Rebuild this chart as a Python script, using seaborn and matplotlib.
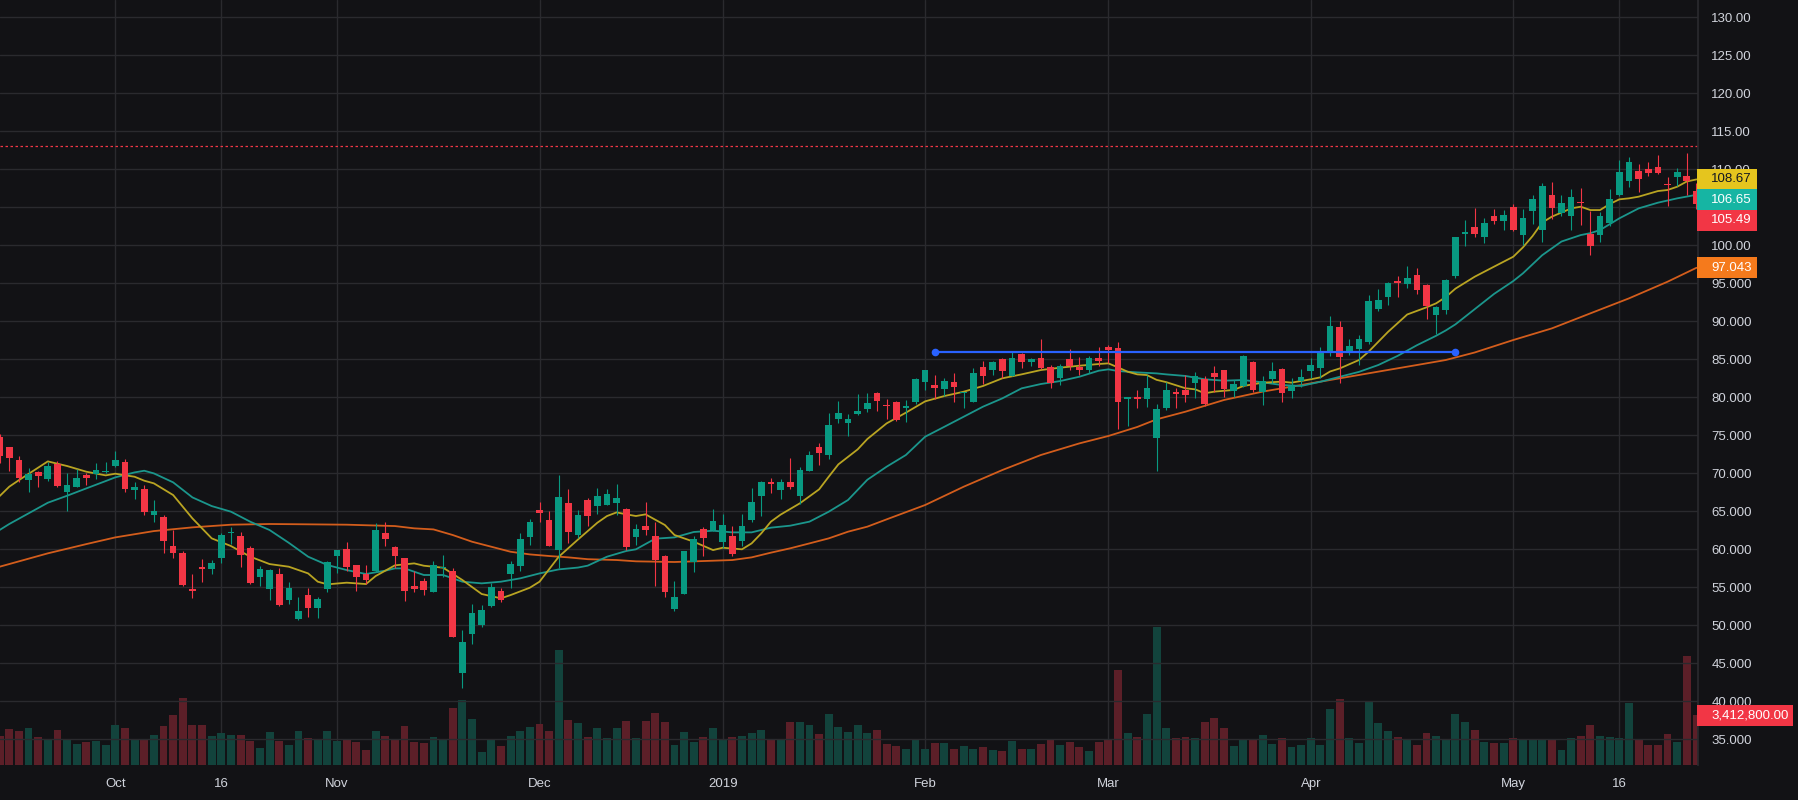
import numpy as np
import pandas as pd
import seaborn as sns
import matplotlib.pyplot as plt
from matplotlib.patches import Rectangle
from matplotlib.ticker import FuncFormatter

# 1 - Daily candles, bar index 0..176
opens = [74.8, 73.46, 71.75, 69.12, 70.17, 69.29, 71.26, 67.58, 68.24, 69.77,
         69.9, 70.2, 71.0, 71.48, 67.84, 67.93, 64.51, 64.25, 60.43, 59.51,
         54.77, 57.71, 57.4, 58.9, 62.2, 61.75, 60.17, 56.4, 54.82, 56.75,
         53.37, 50.83, 53.98, 52.32, 54.77, 59.16, 60.04, 57.93, 56.75, 57.19,
         62.14, 60.3, 58.85, 55.17, 55.83, 54.42, 57.6, 57.14, 43.77, 48.9,
         50.08, 52.58, 54.51, 56.79, 57.84, 61.66, 65.17, 63.85, 59.95, 66.09,
         61.92, 66.48, 65.7, 65.83, 66.09, 65.3, 61.62, 63.06, 61.75, 59.12,
         52.14, 54.12, 58.33, 62.67, 62.54, 60.96, 61.75, 61.09, 63.85, 67.01,
         68.85, 67.8, 68.85, 67.01, 70.3, 73.46, 72.41, 77.14, 76.62, 77.8,
         78.46, 80.56, 78.99, 79.38, 78.59, 79.38, 82.01, 81.62, 81.09, 82.01,
         80.6, 79.38, 83.99, 83.59, 85.04, 82.8, 85.7, 84.64, 85.17, 83.99,
         82.54, 85.04, 83.99, 83.59, 85.17, 86.62, 86.49, 79.8, 80.04, 79.78,
         74.64, 78.59, 80.7, 80.97, 81.89, 82.41, 83.2, 83.6, 80.83, 81.49,
         84.65, 80.7, 82.41, 83.73, 80.83, 82.15, 83.47, 83.86, 85.97, 89.26,
         86.1, 86.36, 87.28, 91.62, 93.2, 95.31, 94.91, 96.1, 94.78, 90.83,
         91.49, 95.97, 101.49, 102.41, 101.09, 103.85, 103.2, 105.04, 101.35, 104.51,
         102.01, 106.62, 104.25, 103.85, 105.7, 101.49, 101.35, 102.93, 106.62, 108.46,
         109.78, 110.04, 110.3, 108.06, 108.99, 109.12, 107.14]
highs = [75.2, 73.5, 72.27, 70.65, 70.3, 71.48, 71.57, 69.99, 70.61, 70.08,
         71.4, 71.5, 72.93, 71.88, 68.85, 68.41, 66.48, 64.47, 62.54, 59.77,
         56.75, 58.72, 58.59, 62.14, 62.93, 62.27, 60.43, 57.8, 57.45, 57.58,
         55.69, 53.72, 54.86, 53.72, 58.46, 59.9, 60.96, 57.93, 57.93, 63.46,
         63.59, 60.43, 58.85, 57.14, 56.27, 58.46, 59.25, 57.49, 49.38, 52.8,
         52.67, 55.61, 54.86, 58.46, 62.14, 63.98, 66.22, 65.04, 69.77, 67.89,
         65.17, 66.75, 68.06, 67.93, 68.59, 65.43, 63.33, 66.22, 63.59, 59.25,
         55.83, 59.78, 61.75, 62.93, 65.3, 64.64, 63.06, 64.64, 68.06, 68.98,
         69.38, 69.25, 72.01, 70.83, 72.93, 73.99, 77.93, 79.51, 77.8, 80.43,
         80.56, 80.7, 79.78, 79.51, 79.64, 82.54, 83.59, 82.93, 82.54, 83.2,
         80.7, 83.85, 84.78, 84.78, 85.17, 85.96, 85.83, 85.17, 87.67, 84.25,
         84.38, 86.35, 85.3, 85.43, 86.62, 86.88, 87.28, 80.04, 80.96, 82.93,
         79.12, 82.01, 81.23, 82.94, 83.33, 82.81, 84.12, 83.6, 82.28, 85.57,
         84.78, 82.81, 84.65, 83.86, 82.54, 83.73, 85.18, 86.62, 90.7, 90.04,
         87.68, 88.2, 93.47, 94.26, 95.18, 95.97, 97.28, 97.02, 94.91, 92.02,
         95.57, 101.13, 103.33, 104.91, 103.59, 104.78, 104.64, 105.43, 104.78, 106.62,
         108.2, 108.33, 106.62, 107.41, 107.54, 104.51, 104.38, 107.41, 111.22, 111.62,
         110.7, 110.96, 111.88, 108.99, 110.17, 112.14, 108.2]
lows = [71.3, 70.34, 68.9, 67.58, 68.24, 69.03, 68.24, 65.08, 68.2, 68.46,
        69.29, 70.0, 70.87, 67.58, 66.62, 64.55, 63.63, 59.55, 58.9, 55.21,
        53.63, 55.74, 56.7, 58.24, 60.69, 57.71, 55.47, 55.21, 53.37, 52.58,
        52.84, 50.7, 51.13, 51.0, 54.42, 56.83, 57.19, 54.55, 55.47, 57.05,
        60.43, 57.49, 53.24, 54.42, 54.03, 54.42, 56.4, 48.4, 41.79, 47.58,
        49.82, 52.45, 53.11, 54.95, 57.19, 60.56, 63.59, 60.47, 57.54, 60.87,
        61.53, 63.06, 64.64, 65.83, 64.51, 59.91, 60.56, 61.88, 55.17, 53.72,
        51.88, 54.12, 57.01, 59.12, 62.41, 60.17, 59.12, 60.43, 63.59, 64.38,
        67.41, 66.62, 67.93, 65.96, 70.3, 71.09, 71.88, 76.62, 74.91, 77.67,
        78.06, 78.2, 77.14, 76.88, 76.75, 79.12, 80.96, 79.78, 80.17, 79.38,
        78.59, 79.38, 81.75, 82.93, 82.54, 82.8, 83.85, 84.12, 83.72, 81.22,
        81.62, 83.59, 82.93, 83.2, 84.12, 84.51, 75.83, 76.22, 78.59, 78.72,
        70.3, 78.33, 78.6, 79.39, 79.91, 78.86, 80.7, 80.04, 80.04, 81.36,
        80.7, 78.99, 81.89, 79.39, 79.91, 81.36, 82.54, 82.54, 85.44, 81.89,
        85.57, 84.25, 87.02, 91.36, 92.15, 93.2, 94.39, 93.6, 90.31, 88.33,
        90.97, 95.7, 99.91, 101.09, 100.3, 102.8, 102.01, 101.88, 100.04, 102.8,
        100.43, 103.46, 103.85, 102.01, 102.67, 98.72, 100.43, 102.54, 106.49, 107.67,
        107.01, 109.12, 109.38, 105.17, 107.8, 106.62, 104.78]
closes = [72.3, 72.05, 69.42, 69.9, 69.69, 70.96, 68.37, 68.46, 69.38, 69.42,
          70.43, 70.3, 71.75, 67.97, 68.19, 64.95, 65.04, 61.13, 59.55, 55.34,
          54.55, 57.45, 58.19, 61.88, 62.3, 59.29, 55.61, 57.4, 57.27, 52.71,
          54.91, 51.88, 52.32, 53.46, 58.33, 59.9, 57.71, 56.4, 56.0, 62.54,
          61.4, 59.16, 54.55, 54.82, 54.69, 57.93, 57.71, 48.5, 47.8, 51.62,
          52.01, 55.04, 53.37, 58.06, 61.35, 63.59, 64.77, 60.47, 66.88, 62.32,
          64.51, 64.42, 67.01, 67.28, 66.75, 60.26, 62.67, 62.54, 58.59, 54.38,
          53.72, 59.78, 61.35, 61.49, 63.72, 63.2, 59.38, 63.06, 66.22, 68.85,
          68.59, 68.85, 68.2, 70.43, 72.41, 72.67, 76.35, 77.93, 77.14, 78.2,
          79.25, 79.51, 78.85, 77.01, 78.85, 82.41, 83.59, 81.22, 82.14, 81.35,
          80.7, 83.2, 82.8, 84.64, 83.46, 85.17, 84.64, 85.04, 83.85, 81.88,
          84.12, 84.12, 83.59, 85.17, 84.78, 86.22, 79.38, 80.04, 79.8, 81.22,
          78.46, 80.96, 80.44, 80.31, 82.81, 79.12, 82.68, 81.1, 81.76, 85.44,
          80.97, 82.15, 83.47, 80.57, 81.49, 82.68, 84.25, 85.83, 89.39, 85.31,
          86.75, 87.68, 92.68, 92.81, 95.04, 95.04, 95.7, 94.12, 92.02, 91.89,
          95.44, 101.13, 101.75, 101.49, 102.93, 103.2, 103.99, 102.01, 103.59, 106.09,
          107.8, 104.91, 105.56, 106.35, 105.56, 99.91, 103.85, 106.09, 109.64, 110.96,
          108.72, 109.51, 109.51, 107.93, 109.64, 108.46, 105.49]

# volume in millions of shares
volumes = [2.00, 2.48, 2.34, 2.55, 1.93, 1.80, 2.41, 1.80, 1.46, 1.59,
           1.66, 1.39, 2.75, 2.55, 1.80, 1.80, 2.07, 2.68, 3.44, 4.60,
           2.75, 2.75, 2.00, 2.21, 2.07, 2.07, 1.66, 1.18, 2.28, 1.66,
           1.39, 2.34, 1.87, 1.80, 2.34, 1.66, 1.73, 1.59, 1.05, 2.34,
           2.00, 1.73, 2.68, 1.59, 1.52, 1.93, 1.80, 3.91, 4.46, 3.16,
           0.91, 1.80, 1.32, 2.00, 2.34, 2.62, 2.82, 2.34, 7.87, 3.09,
           2.89, 1.93, 2.55, 1.87, 2.55, 3.03, 1.87, 2.98, 3.57, 2.96,
           1.39, 2.28, 1.59, 1.93, 2.55, 1.73, 1.93, 2.00, 2.21, 2.41,
           1.73, 1.80, 2.96, 2.96, 2.75, 2.14, 3.50, 2.62, 2.28, 2.75,
           2.21, 2.41, 1.46, 1.32, 1.09, 1.77, 1.09, 1.50, 1.50, 1.09,
           1.30, 1.09, 1.23, 1.02, 0.96, 1.64, 1.09, 1.09, 1.43, 1.77,
           1.37, 1.57, 1.23, 0.96, 1.57, 1.77, 6.48, 2.18, 1.91, 3.48,
           9.42, 2.53, 1.84, 1.91, 1.84, 2.93, 3.21, 2.53, 1.30, 1.71,
           1.71, 2.05, 1.43, 1.84, 1.23, 1.37, 1.84, 1.37, 3.82, 4.50,
           1.84, 1.50, 4.30, 2.87, 2.32, 1.91, 1.77, 1.37, 2.18, 1.98,
           1.77, 3.48, 2.93, 2.39, 1.57, 1.50, 1.50, 1.84, 1.71, 1.71,
           1.77, 1.77, 1.02, 1.84, 1.98, 2.73, 1.98, 1.91, 1.84, 4.23,
           1.71, 1.37, 1.37, 2.12, 1.57, 7.44, 3.4128]

# 2 - Moving average lines, sampled along the chart (bar index, value)
fast_x = [0, 1, 2, 5, 7, 9, 11, 12, 14, 15, 16, 18, 20, 22, 24, 26, 28, 30, 32, 33,
          34, 36, 38, 39, 41, 43, 44, 46, 48, 50, 52, 53, 55, 56, 58, 60, 61, 62, 63, 64,
          65, 66, 67, 69, 70, 72, 74, 75, 77, 78, 79, 80, 81, 83, 85, 86, 87, 89, 90, 92,
          94, 96, 98, 100, 102, 104, 106, 108, 110, 112, 114, 115, 116, 117, 118, 119, 120, 121, 123, 124,
          125, 126, 128, 129, 131, 133, 134, 136, 137, 138, 139, 141, 142, 144, 146, 148, 149, 150, 151, 153,
          155, 157, 158, 159, 160, 161, 163, 164, 165, 166, 167, 168, 169, 170, 172, 173, 174, 175, 176]
fast_y = [67.0, 68.24, 69.1, 71.57, 70.96, 70.21, 69.73, 69.95, 69.55, 69.03, 68.68, 67.14, 64.07, 61.44, 60.43, 59.03, 58.06, 57.71, 56.83, 55.74,
          55.39, 55.61, 55.43, 56.48, 57.89, 58.15, 57.84, 57.58, 55.96, 54.12, 53.55, 53.98, 54.95, 55.74, 59.03, 61.3, 62.4, 63.5, 64.38, 64.86,
          64.6, 64.38, 64.6, 63.2, 61.88, 61.0, 59.9, 60.21, 60.0, 60.78, 62.1, 63.64, 64.56, 66.05, 67.89, 69.56, 71.18, 73.15, 74.51, 76.57,
          77.98, 79.47, 80.17, 80.74, 81.49, 82.5, 83.02, 83.59, 83.9, 84.16, 84.38, 84.47, 83.94, 83.37, 83.02, 82.93, 82.3, 82.0, 81.19, 81.05,
          80.53, 80.75, 80.97, 81.49, 81.93, 82.06, 81.93, 82.37, 82.63, 83.4, 83.8, 84.91, 86.01, 88.6, 90.9, 91.84, 92.37, 93.2, 94.3, 95.87,
          97.19, 98.5, 99.73, 101.22, 103.0, 103.77, 104.86, 105.08, 104.64, 104.64, 105.43, 106.05, 106.18, 106.4, 107.14, 107.28, 107.71, 108.4, 108.67]

mid_x = [0, 1, 3, 5, 7, 9, 11, 12, 14, 15, 16, 18, 20, 22, 24, 26, 28, 30, 32, 34,
         36, 38, 40, 41, 42, 44, 46, 48, 50, 52, 54, 56, 58, 60, 61, 63, 65, 66, 68, 70,
         72, 74, 76, 78, 80, 82, 84, 86, 88, 90, 92, 94, 96, 98, 100, 102, 104, 106, 108, 110,
         112, 114, 115, 116, 118, 120, 121, 123, 125, 127, 129, 131, 133, 135, 137, 139, 141, 143, 145, 147,
         149, 150, 151, 153, 155, 157, 158, 160, 162, 164, 165, 166, 168, 170, 172, 174, 176]
mid_y = [62.54, 63.33, 64.73, 66.13, 67.05, 68.02, 68.98, 69.47, 70.12, 70.34, 69.99, 68.81, 66.83, 65.69, 64.95, 63.63, 62.54, 60.85, 59.03, 57.93,
         57.27, 56.75, 57.19, 57.49, 57.49, 56.62, 56.62, 55.74, 55.52, 55.74, 56.18, 56.83, 57.36, 57.6, 57.85, 59.03, 59.78, 60.0, 61.4, 61.57,
         62.28, 62.45, 62.23, 62.23, 62.85, 63.11, 63.64, 64.95, 66.49, 69.15, 70.87, 72.41, 74.82, 76.13, 77.45, 78.77, 79.86, 81.18, 81.75, 82.14,
         82.71, 83.5, 83.68, 83.46, 83.28, 83.15, 83.02, 82.81, 82.37, 82.19, 82.28, 81.97, 81.62, 81.49, 82.05, 82.7, 83.35, 84.25, 85.45, 86.85,
         88.1, 88.8, 89.6, 91.6, 93.6, 95.3, 96.31, 98.7, 100.5, 101.35, 101.6, 102.01, 103.55, 104.86, 105.61, 106.18, 106.65]

slow_x = [0, 5, 9, 12, 16, 20, 24, 28, 31, 36, 41, 43, 45, 47, 49, 51, 53, 55, 57, 59,
          61, 64, 66, 70, 74, 76, 78, 80, 82, 84, 86, 88, 90, 92, 96, 100, 104, 108, 112, 115,
          118, 120, 123, 127, 131, 135, 139, 143, 147, 150, 153, 157, 161, 165, 169, 173, 176]
slow_y = [57.71, 59.47, 60.69, 61.57, 62.4, 62.89, 63.24, 63.33, 63.3, 63.24, 63.06, 62.76, 62.62, 61.88, 61.0, 60.34, 59.68, 59.33, 59.12, 58.94,
          58.7, 58.59, 58.42, 58.33, 58.5, 58.59, 58.94, 59.56, 60.13, 60.78, 61.44, 62.32, 62.98, 63.94, 65.83, 68.24, 70.43, 72.41, 73.94, 74.91,
          76.1, 77.1, 78.11, 79.65, 80.75, 81.62, 82.5, 83.38, 84.25, 84.91, 85.9, 87.54, 89.07, 91.05, 93.02, 95.21, 97.043]

# 3 - Drawings and axis labels
level_bars = [97, 151]
level_price = 85.96
alert_price = 113.07
price_ticks = list(range(35, 131, 5))
date_ticks = [12, 23, 35, 56, 75, 96, 115, 136, 157, 168]
date_labels = ["Oct", "16", "Nov", "Dec", "2019", "Feb", "Mar", "Apr", "May", "16"]

df = pd.DataFrame({"bar": np.arange(len(closes)), "open": opens, "high": highs,
                   "low": lows, "close": closes, "volume": volumes})
df["up"] = df["close"] >= df["open"]

BG = "#121215"
GRID = "#2a2a2e"
TXT = "#d1d4dc"
UP, DOWN = "#089981", "#f23645"
VOL_UP, VOL_DOWN = "#12433c", "#5c1f28"
C_FAST, C_MID, C_SLOW = "#b9a422", "#1b968c", "#d35d1c"

sns.set_theme(style="dark", rc={"axes.facecolor": BG, "figure.facecolor": BG,
                                "axes.edgecolor": GRID, "grid.color": GRID,
                                "xtick.color": TXT, "ytick.color": TXT})
plt.rcParams["font.family"] = ["Liberation Sans", "DejaVu Sans"]

W, H = 1798, 800
fig = plt.figure(figsize=(W / 100, H / 100), dpi=100)
rect = [0, 35 / H, 1698 / W, 765 / H]
ax_vol = fig.add_axes(rect)
ax = ax_vol.twinx()

# 4 - Volume pane (drawn underneath)
ax_vol.bar(df["bar"], df["volume"], width=0.82,
           color=np.where(df["up"], VOL_UP, VOL_DOWN), linewidth=0)
ax_vol.set_ylim(0, 765 * 68256 / 1e6)
ax_vol.set_yticks([])
ax_vol.set_xlim(0.04, 176.16)
ax_vol.set_xticks(date_ticks, date_labels)
ax_vol.tick_params(axis="x", length=0, pad=9.5, labelsize=9.5, labelcolor=TXT)
ax_vol.grid(axis="x", color=GRID, lw=1)
ax_vol.grid(axis="y", visible=False)

# 5 - Candles
cols = np.where(df["up"], UP, DOWN)
ax.vlines(df["bar"], df["low"], df["high"], colors=cols, lw=0.8, zorder=3)
body_lo = df[["open", "close"]].min(axis=1)
body_h = (df["close"] - df["open"]).abs().clip(lower=0.13)
ax.bar(df["bar"], body_h, bottom=body_lo, width=0.69, color=cols, linewidth=0, zorder=4)

# 6 - Moving averages
sns.lineplot(x=slow_x, y=slow_y, ax=ax, color=C_SLOW, lw=1.3, zorder=2)
sns.lineplot(x=mid_x, y=mid_y, ax=ax, color=C_MID, lw=1.3, zorder=2)
sns.lineplot(x=fast_x, y=fast_y, ax=ax, color=C_FAST, lw=1.3, zorder=2)

# 7 - Horizontal level drawing and alert line
sns.lineplot(x=level_bars, y=[level_price] * 2, ax=ax, color="#2962ff", lw=1.6,
             marker="o", markersize=5.5, markeredgewidth=0, zorder=5)
ax.axhline(alert_price, color=DOWN, lw=0.9, ls=(0, (2, 2)), zorder=1)

ax.set_ylim(31.62, 132.28)
ax.set_yticks(price_ticks)
ax.yaxis.set_major_formatter(FuncFormatter(lambda v, _: f"{v:.2f}" if v >= 100 else f"{v:.3f}"))
ax.tick_params(axis="y", length=0, pad=9.5, labelsize=9.5, labelcolor=TXT)
ax.grid(axis="y", color=GRID, lw=1)
ax.grid(axis="x", visible=False)
for a in (ax, ax_vol):
    for s in a.spines.values():
        s.set_visible(False)
ax.spines["right"].set_visible(True)
ax.spines["right"].set_color(GRID)
ax.set_ylabel("")

# 8 - Last value badges on the price scale
def fig_y(axis, value):
    disp = axis.transData.transform((0, value))
    return fig.transFigure.inverted().transform(disp)[1]

def badge(yc, text, bg, fg, width=60):
    h = 21 / H
    fig.add_artist(Rectangle((1697 / W, yc - h / 2), width / W, h, transform=fig.transFigure,
                             facecolor=bg, edgecolor="none", zorder=10))
    fig.text(1711 / W, yc, text, color=fg, fontsize=9.5, va="center", ha="left", zorder=11)

fmt = lambda v: f"{v:.2f}" if v >= 100 else f"{v:.3f}"
y_fast = fig_y(ax, fast_y[-1])
step = 20.5 / H
badge(y_fast, fmt(fast_y[-1]), "#e5c51e", "#131722")
badge(y_fast - step, fmt(mid_y[-1]), "#16b5a3", "white")
badge(y_fast - 2 * step, fmt(closes[-1]), DOWN, "white")
badge(fig_y(ax, slow_y[-1]), fmt(slow_y[-1]), "#f57a1c", "white")
badge(fig_y(ax_vol, volumes[-1]), f"{volumes[-1] * 1e6:,.2f}", DOWN, "white", width=96)

fig.savefig("out.png", dpi=100, facecolor=BG)
